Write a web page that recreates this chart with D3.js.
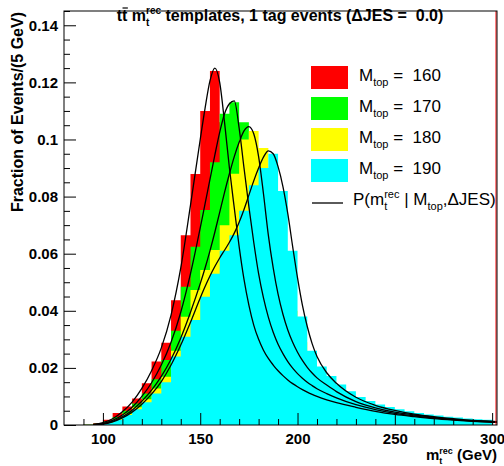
<!DOCTYPE html>
<html>
<head>
<meta charset="utf-8">
<script src="https://cdn.jsdelivr.net/npm/d3@7"></script>
<style>
body { margin: 0; background: #fff; }
text { font-family: "Liberation Sans", Arial, sans-serif; white-space: pre; }
</style>
</head>
<body>
<script>
//////////////// Data ////////////////////
var binStart = 80, binWidth = 5;   // bins 80-85, 85-90, ... 295-300

var h160 = [0, 0, 0.0002, 0.0006, 0.0018, 0.0042, 0.0065, 0.0093, 0.0146, 0.0222,
  0.0288, 0.0437, 0.0665, 0.0879, 0.110, 0.124, 0.106, 0.084, 0.060, 0.042,
  0.030, 0.022, 0.017, 0.014, 0.011, 0.0095, 0.008, 0.007, 0.006, 0.0055,
  0.005, 0.0045, 0.004, 0.0035, 0.003, 0.0028, 0.0025, 0.0022, 0.002, 0.0018,
  0.0015, 0.0013, 0.0011, 0.001];
var h170 = [0, 0, 0.0001, 0.0004, 0.0012, 0.0028, 0.0050, 0.0075, 0.0110, 0.0160,
  0.0228, 0.0330, 0.0484, 0.0624, 0.0753, 0.092, 0.109, 0.113, 0.106, 0.082,
  0.060, 0.043, 0.031, 0.023, 0.018, 0.014, 0.011, 0.0095, 0.008, 0.007,
  0.0062, 0.0055, 0.005, 0.0045, 0.004, 0.0036, 0.0032, 0.0028, 0.0025, 0.0022,
  0.002, 0.0017, 0.0015, 0.0012];
var h180 = [0, 0, 0.0001, 0.0003, 0.0009, 0.0022, 0.0040, 0.0062, 0.0090, 0.0128,
  0.0169, 0.0260, 0.0379, 0.0473, 0.0543, 0.0613, 0.0700, 0.0880, 0.1000, 0.1030,
  0.0970, 0.0780, 0.0560, 0.0400, 0.0290, 0.0220, 0.0170, 0.0135, 0.0110, 0.0092,
  0.0080, 0.0068, 0.0060, 0.0053, 0.0047, 0.0042, 0.0037, 0.0033, 0.0029, 0.0026,
  0.0023, 0.0020, 0.0017, 0.0015];
var h190 = [0, 0, 0.0001, 0.0003, 0.0008, 0.0018, 0.0035, 0.0055, 0.0080, 0.0110,
  0.0150, 0.0240, 0.0309, 0.0368, 0.0449, 0.0530, 0.0610, 0.0665, 0.0750, 0.0840,
  0.0900, 0.0950, 0.0820, 0.0610, 0.0380, 0.0260, 0.0205, 0.0172, 0.0142, 0.0118,
  0.0098, 0.0084, 0.0072, 0.0063, 0.0055, 0.0048, 0.0042, 0.0037, 0.0033, 0.0029,
  0.0026, 0.0023, 0.0020, 0.0018];

// P(m | Mtop) curves, sampled on a common grid
var curveX = [95, 100, 105, 110, 115, 120, 125, 130, 135, 140, 145, 150,
  152.5, 155, 157.5, 160, 162.5, 165, 167.5, 170, 172.5, 175, 177.5, 180,
  182.5, 185, 187.5, 190, 192.5, 195, 197.5, 200, 202.5, 205, 207.5, 210,
  215, 220, 230, 240, 250, 260, 270, 280, 290, 302.5];
var p160 = [0.0002, 0.0008, 0.0022, 0.0046, 0.0080, 0.0128, 0.0190, 0.0270, 0.0385, 0.0550, 0.0770, 0.1000,
  0.1110, 0.1205, 0.1250, 0.1200, 0.1060, 0.0900, 0.0760, 0.0625, 0.0510, 0.0420, 0.0350, 0.0300,
  0.0262, 0.0233, 0.0210, 0.0190, 0.0173, 0.0158, 0.0145, 0.0134, 0.0124, 0.0115, 0.0107, 0.0100,
  0.0088, 0.0078, 0.0062, 0.0048, 0.0037, 0.0029, 0.0022, 0.0017, 0.0013, 0.0009];
var p170 = [0.0001, 0.0005, 0.0016, 0.0035, 0.0062, 0.0100, 0.0148, 0.0210, 0.0290, 0.0395, 0.0530, 0.0690,
  0.0775, 0.0860, 0.0945, 0.1025, 0.1090, 0.1125, 0.1135, 0.1040, 0.0900, 0.0765, 0.0640, 0.0530,
  0.0445, 0.0378, 0.0325, 0.0283, 0.0250, 0.0222, 0.0199, 0.0180, 0.0164, 0.0150, 0.0138, 0.0127,
  0.0110, 0.0095, 0.0071, 0.0054, 0.0041, 0.0032, 0.0025, 0.0019, 0.0014, 0.0010];
var p180 = [0.0001, 0.0004, 0.0013, 0.0029, 0.0052, 0.0083, 0.0122, 0.0170, 0.0230, 0.0305, 0.0395, 0.0495,
  0.0550, 0.0610, 0.0675, 0.0745, 0.0815, 0.0880, 0.0940, 0.0990, 0.1030, 0.1045, 0.1020, 0.0940,
  0.0810, 0.0665, 0.0550, 0.0458, 0.0388, 0.0333, 0.0290, 0.0255, 0.0226, 0.0202, 0.0182, 0.0165,
  0.0140, 0.0117, 0.0082, 0.0060, 0.0045, 0.0035, 0.0027, 0.0020, 0.0015, 0.0011];
var p190 = [0.0001, 0.0003, 0.0011, 0.0025, 0.0045, 0.0073, 0.0108, 0.0152, 0.0210, 0.0280, 0.0360, 0.0445,
  0.0485, 0.0522, 0.0555, 0.0585, 0.0612, 0.0640, 0.0672, 0.0710, 0.0755, 0.0805, 0.0855, 0.0900,
  0.0938, 0.0960, 0.0950, 0.0905, 0.0835, 0.0740, 0.0625, 0.0515, 0.0420, 0.0345, 0.0285, 0.0240,
  0.0183, 0.0146, 0.0097, 0.0069, 0.0051, 0.0038, 0.0029, 0.0022, 0.0016, 0.0012];

var masses = ["160", "170", "180", "190"];
var colors = ["#ff0000", "#00ff00", "#ffff00", "#00ffff"];
var hists = [h160, h170, h180, h190];
var curves = [p160, p170, p180, p190];

var xMajor = [100, 150, 200, 250, 300];
var yMajor = [0, 0.02, 0.04, 0.06, 0.08, 0.1, 0.12, 0.14];

//////////////// Scales ////////////////////
var x = d3.scaleLinear().domain([80, 302.5]).range([64, 497]);
var y = d3.scaleLinear().domain([0, 0.145]).range([425, 11]);

var svg = d3.select("body").append("svg")
  .attr("width", 504)
  .attr("height", 466);

svg.append("clipPath").attr("id", "frame")
  .append("rect")
  .attr("x", 64).attr("y", 11)
  .attr("width", 433).attr("height", 414);

var plot = svg.append("g").attr("clip-path", "url(#frame)");

//////////////// Histograms ////////////////////
var histArea = d3.area()
  .curve(d3.curveStepAfter)
  .x(function(d){ return x(d[0]); })
  .y0(y(0))
  .y1(function(d){ return y(d[1]); });

hists.forEach(function(h, k){
  var pts = h.map(function(v, i){ return [binStart + i*binWidth, v]; });
  pts.push([binStart + h.length*binWidth, h[h.length-1]]);
  plot.append("path")
    .attr("d", histArea(pts))
    .attr("fill", colors[k]);
});

//////////////// Curves ////////////////////
var line = d3.line()
  .curve(d3.curveMonotoneX)
  .x(function(d){ return x(d[0]); })
  .y(function(d){ return y(d[1]); });

curves.forEach(function(c){
  plot.append("path")
    .attr("d", line(c.map(function(v, i){ return [curveX[i], v]; })))
    .attr("fill", "none")
    .attr("stroke", "#000")
    .attr("stroke-width", 1.3);
});

//////////////// Frame + axes ////////////////////
svg.append("line")
  .attr("x1", 496).attr("x2", 496).attr("y1", 11).attr("y2", 425)
  .attr("stroke", "#ff0000").attr("stroke-width", 1);
svg.append("rect")
  .attr("x", 64).attr("y", 11).attr("width", 433).attr("height", 414)
  .attr("fill", "none").attr("stroke", "#000").attr("stroke-width", 1);

var yMinor = d3.range(0, 0.1451, 0.005).filter(function(v){
  return yMajor.every(function(m){ return Math.abs(m - v) > 1e-6; });
});
var xMinor = d3.range(90, 301, 10).filter(function(v){ return xMajor.indexOf(v) < 0; });

svg.append("g")
  .attr("transform", "translate(64,0)")
  .call(d3.axisLeft(y).tickValues(yMajor).tickSize(-12).tickPadding(6)
    .tickFormat(function(d){ return d === 0 ? "0" : String(+d.toFixed(3)); }));
svg.append("g")
  .attr("transform", "translate(64,0)")
  .call(d3.axisLeft(y).tickValues(yMinor).tickSize(-6).tickFormat(""));

svg.append("g")
  .attr("transform", "translate(0,425)")
  .call(d3.axisBottom(x).tickValues(xMajor).tickSize(-12).tickPadding(8));
svg.append("g")
  .attr("transform", "translate(0,425)")
  .call(d3.axisBottom(x).tickValues(xMinor).tickSize(-6).tickFormat(""));

svg.selectAll(".domain").remove();
svg.selectAll(".tick line").attr("stroke", "#000");
svg.selectAll(".tick text")
  .attr("fill", "#000")
  .style("font-family", "'Liberation Sans', Arial, sans-serif")
  .style("font-size", "15px")
  .style("font-weight", "bold");

//////////////// Helper for stacked sub/sup ////////////////////
function subUnder(textSel, charIdx, str, dy, size, weight){
  var p = textSel.node().getStartPositionOfChar(charIdx);
  svg.append("text")
    .attr("x", p.x).attr("y", +textSel.attr("y") + dy)
    .style("font-size", size + "px")
    .style("font-weight", weight)
    .text(str);
}

//////////////// Title ////////////////////
var title = svg.append("text")
  .attr("x", 280).attr("y", 21)
  .attr("text-anchor", "middle")
  .style("font-size", "16px")
  .style("font-weight", "bold");
title.append("tspan").text("tt m");
title.append("tspan").attr("dy", -7).style("font-size", "10px").text("rec");
title.append("tspan").attr("dy", 7).text(" templates, 1 tag events (\u0394JES =  0.0)");
subUnder(title, 4, "t", 5, 10, "bold");
// bar over the second t
var tb0 = title.node().getStartPositionOfChar(1), tb1 = title.node().getEndPositionOfChar(1);
svg.append("line")
  .attr("x1", tb0.x + 0.5).attr("x2", tb1.x + 0.5)
  .attr("y1", 8).attr("y2", 8)
  .attr("stroke", "#000").attr("stroke-width", 1.2);

//////////////// Axis titles ////////////////////
svg.append("text")
  .attr("transform", "translate(23,12) rotate(-90)")
  .attr("text-anchor", "end")
  .style("font-size", "16px")
  .style("font-weight", "bold")
  .text("Fraction of Events/(5 GeV)");

var xt = svg.append("text")
  .attr("x", 497).attr("y", 460)
  .attr("text-anchor", "end")
  .style("font-size", "15px")
  .style("font-weight", "bold");
xt.append("tspan").text("m");
xt.append("tspan").attr("dy", -6).style("font-size", "9px").text("rec");
xt.append("tspan").attr("dy", 6).text(" (GeV)");
subUnder(xt, 1, "t", 4, 9, "bold");

//////////////// Legend ////////////////////
var legend = svg.append("g");
masses.forEach(function(m, k){
  var yy = 66 + k*31;
  legend.append("rect")
    .attr("x", 311).attr("y", yy)
    .attr("width", 37).attr("height", 23)
    .attr("fill", colors[k]);
  var t = legend.append("text")
    .attr("x", 359).attr("y", yy + 15)
    .style("font-size", "17px");
  t.append("tspan").text("M");
  t.append("tspan").attr("dy", 5).style("font-size", "11px").text("top");
  t.append("tspan").attr("dy", -5).text(" =  " + m);
});
legend.append("line")
  .attr("x1", 312).attr("x2", 343)
  .attr("y1", 203).attr("y2", 203)
  .attr("stroke", "#000").attr("stroke-width", 1.3);
var lt = legend.append("text")
  .attr("x", 353).attr("y", 205)
  .style("font-size", "17px");
lt.append("tspan").text("P(m");
lt.append("tspan").attr("dy", -7).style("font-size", "11px").text("rec");
lt.append("tspan").attr("dy", 7).text(" | M");
lt.append("tspan").attr("dy", 5).style("font-size", "11px").text("top");
lt.append("tspan").attr("dy", -5).text(",\u0394JES)");
var pr = lt.node().getStartPositionOfChar(3);
legend.append("text")
  .attr("x", pr.x).attr("y", 210)
  .style("font-size", "11px")
  .text("t");
</script>
</body>
</html>
